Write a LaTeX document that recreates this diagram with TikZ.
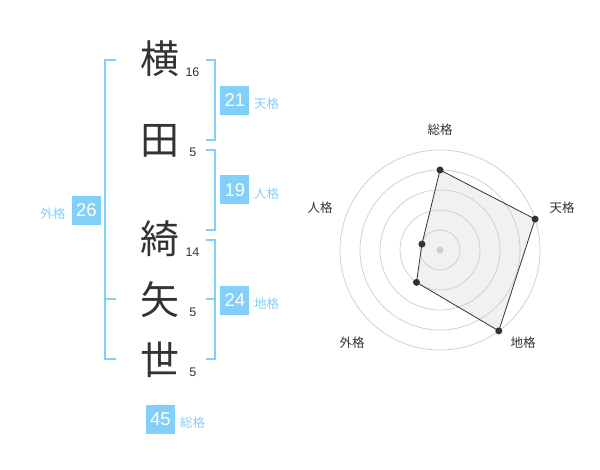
\documentclass[tikz,border=0pt]{standalone}
\usepackage{fontspec}
\usetikzlibrary{calc}
\setmainfont{Liberation Sans}
\newfontfamily\jp{Noto Sans CJK JP}
\definecolor{bl}{HTML}{82CFFA}
\definecolor{ink}{HTML}{333333}
\definecolor{ringc}{HTML}{CCCCCC}
\definecolor{areac}{HTML}{F1F1F1}
\begin{document}
\begin{tikzpicture}[x=1pt,y=-1pt,
 kanji/.style={font=\jp\fontsize{39}{39}\selectfont, text=ink, inner sep=0},
 strokes/.style={font=\fontsize{12.5}{13}\selectfont, text=ink, inner sep=0},
 numbox/.style={fill=bl, text=white, minimum width=29pt, minimum height=29pt, inner sep=0, font=\fontsize{18.5}{18.5}\selectfont},
 blab/.style={text=bl, font=\jp\fontsize{12.5}{12.5}\selectfont, inner sep=0},
 brk/.style={draw=bl, line width=2pt},
 ring/.style={draw=ringc, line width=0.7pt},
 rlab/.style={text=ink, font=\jp\fontsize{12.5}{12.5}\selectfont, inner sep=0},
 vdot/.style={circle, fill=ink, inner sep=0, minimum size=7pt}]
\useasboundingbox (0,0) rectangle (600,470);
% name characters
\node[kanji] (k1) at (160,59) {横};
\node[kanji] (k2) at (160,141) {田};
\node[kanji] (k3) at (160,239) {綺};
\node[kanji] (k4) at (160,300) {矢};
\node[kanji] (k5) at (160,360) {世};
\node[strokes] (s1) at (192.5,72.5) {16};
\node[strokes] (s2) at (192.8,152.5) {5};
\node[strokes] (s3) at (192.5,252.5) {14};
\node[strokes] (s4) at (192.8,312.5) {5};
\node[strokes] (s5) at (192.8,372.5) {5};
% brackets
\draw[brk] (206,60.5) -- (214.5,60.5) -- (214.5,140) -- (206,140);
\draw[brk] (206,150) -- (214.5,150) -- (214.5,230) -- (206,230);
\draw[brk] (206,240.5) -- (214.5,240.5) -- (214.5,359.5) -- (206,359.5);
\draw[brk] (206,299.5) -- (214.5,299.5);
\draw[brk] (116,60.5) -- (104.5,60.5) -- (104.5,359.5) -- (116,359.5);
\draw[brk] (104.5,299.5) -- (116,299.5);
% boxes
\node[numbox] (b1) at (234.8,100.3) {21};
\node[blab, anchor=west] (l1) at (254,104) {天格};
\node[numbox] (b2) at (234.8,190) {19};
\node[blab, anchor=west] (l2) at (254,193.5) {人格};
\node[numbox] (b3) at (234.8,300.5) {24};
\node[blab, anchor=west] (l3) at (254,304) {地格};
\node[numbox] (b4) at (86.3,210.5) {26};
\node[blab, anchor=east] (l4) at (65.5,214) {外格};
\node[numbox] (b5) at (160.5,419) {45};
\node[blab, anchor=west] (l5) at (180,422.5) {総格};
% radar
\coordinate (C) at (440,250);
\coordinate (pS) at ($(C)+(-90:80)$);
\coordinate (pT) at ($(C)+(-18:100)$);
\coordinate (pC) at ($(C)+(54:100)$);
\coordinate (pG) at ($(C)+(126:40)$);
\coordinate (pJ) at ($(C)+(198:19)$);
\fill[areac] (pS) -- (pT) -- (pC) -- (pG) -- (pJ) -- cycle;
\foreach \r in {20,40,60,80,100} \draw[ring] (C) circle[radius=\r];
\fill[ringc] (C) circle[radius=3.5];
\draw[ink, line width=0.8pt] (pS) -- (pT) -- (pC) -- (pG) -- (pJ) -- cycle;
\foreach \p in {pS,pT,pC,pG,pJ} \node[vdot] at (\p) {};
\node[rlab] (r1) at (440,130) {総格};
\node[rlab] (r2) at (562,208) {天格};
\node[rlab] (r3) at (523,343) {地格};
\node[rlab] (r4) at (352,343) {外格};
\node[rlab] (r5) at (320,208) {人格};
\end{tikzpicture}
\end{document}
